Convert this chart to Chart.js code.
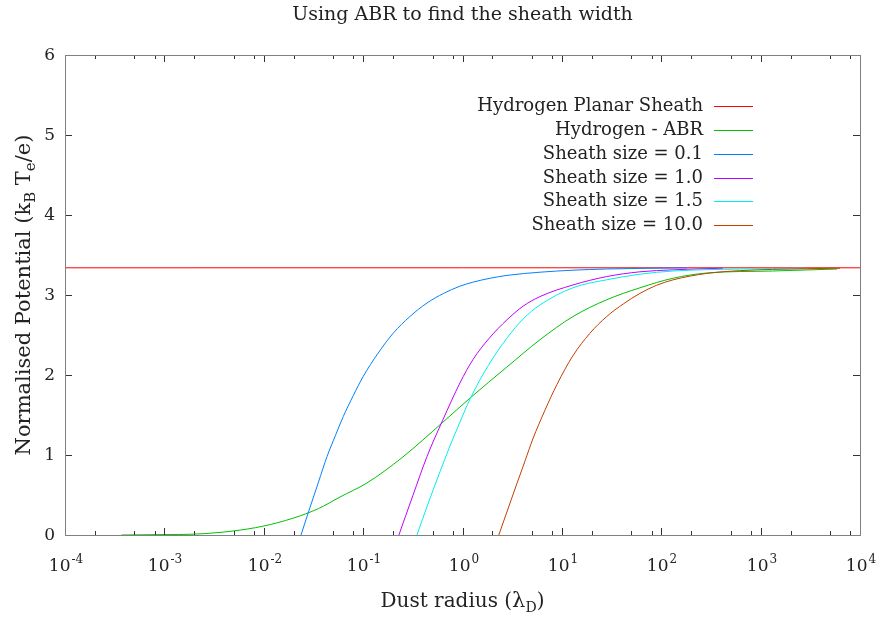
<!DOCTYPE html>
<html>
<head>
<meta charset="utf-8">
<script src="https://cdn.jsdelivr.net/npm/chart.js@4/dist/chart.umd.min.js"></script>
<style>html,body{margin:0;background:#fff}</style>
</head>
<body>
<div style="width:877px;height:621px"><canvas id="sheath" width="877" height="621"></canvas></div>
<script>
// values (x in Debye lengths, y normalised potential)
const planarX = [1e-4, 1e4];
const planarY = [3.34, 3.34];

const abrX = [3.7e-4, 1e-3, 1.95e-3, 4.9e-3, 0.0098, 0.0197, 0.0355, 0.0585, 0.109, 0.251, 0.635, 1.186, 2.8, 6.01, 12.9, 28.2, 61, 132, 288, 1318, 5890];
const abrY = [0, 0.005, 0.01, 0.05, 0.11, 0.21, 0.33, 0.475, 0.65, 0.975, 1.41, 1.71, 2.1, 2.44, 2.73, 2.94, 3.09, 3.21, 3.275, 3.30, 3.325];

const s01X = [0.0237, 0.0279, 0.0355, 0.0433, 0.0525, 0.0631, 0.0794, 0.1, 0.141, 0.2, 0.295, 0.439, 0.646, 0.942, 1.27, 1.91, 2.8, 6.03, 12.9, 28.2, 182];
const s01Y = [0, 0.27, 0.66, 0.98, 1.24, 1.48, 1.74, 1.98, 2.27, 2.52, 2.73, 2.9, 3.02, 3.11, 3.16, 3.21, 3.245, 3.285, 3.31, 3.325, 3.34];

const s10X = [0.229, 0.316, 0.439, 0.635, 0.942, 1.27, 1.86, 2.8, 4.07, 6.01, 12.9, 28.2, 61, 132, 417];
const s10Y = [0, 0.49, 0.98, 1.44, 1.9, 2.19, 2.46, 2.69, 2.86, 2.98, 3.125, 3.23, 3.29, 3.315, 3.335];

const s15X = [0.348, 0.447, 0.593, 0.741, 0.942, 1.19, 1.82, 2.8, 4.07, 6.01, 12.9, 28.2, 61, 132, 631, 2750];
const s15Y = [0, 0.38, 0.79, 1.1, 1.41, 1.70, 2.12, 2.46, 2.7, 2.875, 3.09, 3.19, 3.26, 3.3, 3.325, 3.335];

const s100X = [2.32, 2.82, 3.52, 4.27, 5.1, 6.76, 8.91, 12.9, 19.1, 28.2, 41.7, 61, 89.1, 132, 288, 631, 1318, 6310];
const s100Y = [0, 0.30, 0.64, 0.93, 1.2, 1.56, 1.88, 2.24, 2.52, 2.73, 2.89, 3.02, 3.12, 3.19, 3.27, 3.305, 3.32, 3.335];

const seriesLabels = ['Hydrogen Planar Sheath', 'Hydrogen - ABR', 'Sheath size = 0.1', 'Sheath size = 1.0', 'Sheath size = 1.5', 'Sheath size = 10.0'];
const seriesColors = ['#ff0000', '#00c000', '#0080ff', '#c000ff', '#00eeee', '#c04000'];

const xTickExps = [-4, -3, -2, -1, 0, 1, 2, 3, 4];
const xMinor = [2, 5, 8];
const yTicks = [0, 1, 2, 3, 4, 5, 6];

const FONT = '"DejaVu Serif", serif';

function pts(xs, ys) {
    return xs.map((x, i) => ({x: x, y: ys[i]}));
}

const allData = [
    pts(planarX, planarY), pts(abrX, abrY), pts(s01X, s01Y),
    pts(s10X, s10Y), pts(s15X, s15Y), pts(s100X, s100Y)
];

function drawRich(ctx, parts, cx, baseY) {
    let total = 0;
    parts.forEach(p => { ctx.font = p[1] + 'px ' + FONT; total += ctx.measureText(p[0]).width; });
    let x = cx - total / 2;
    ctx.textAlign = 'left';
    ctx.textBaseline = 'alphabetic';
    parts.forEach(p => {
        ctx.font = p[1] + 'px ' + FONT;
        ctx.fillText(p[0], x, baseY + p[2]);
        x += ctx.measureText(p[0]).width;
    });
}

// draws frame, inward ticks, labels and the key like gnuplot does
const gnuFrame = {
    id: 'gnuFrame',
    afterDraw(chart) {
        const ctx = chart.ctx;
        const a = chart.chartArea;
        const xs = chart.scales.x, ys = chart.scales.y;
        ctx.save();
        ctx.fillStyle = '#222';

        // y ticks
        ctx.strokeStyle = '#333';
        ctx.lineWidth = 1;
        ctx.font = '17px ' + FONT;
        ctx.textAlign = 'right';
        ctx.textBaseline = 'middle';
        yTicks.forEach(v => {
            const y = Math.round(ys.getPixelForValue(v)) + 0.5;
            ctx.beginPath();
            ctx.moveTo(a.left, y); ctx.lineTo(a.left + 7, y);
            ctx.moveTo(a.right, y); ctx.lineTo(a.right - 7, y);
            ctx.stroke();
            ctx.fillText(String(v), a.left - 10, y);
        });

        // x ticks
        xTickExps.forEach(e => {
            const x = Math.round(xs.getPixelForValue(Math.pow(10, e))) + 0.5;
            ctx.beginPath();
            ctx.moveTo(x, a.bottom); ctx.lineTo(x, a.bottom - 7);
            ctx.moveTo(x, a.top); ctx.lineTo(x, a.top + 7);
            ctx.stroke();
            if (e < 4) {
                xMinor.forEach(m => {
                    const xm = Math.round(xs.getPixelForValue(m * Math.pow(10, e))) + 0.5;
                    ctx.beginPath();
                    ctx.moveTo(xm, a.bottom); ctx.lineTo(xm, a.bottom - 4);
                    ctx.moveTo(xm, a.top); ctx.lineTo(xm, a.top + 4);
                    ctx.stroke();
                });
            }
            // label 10^e
            ctx.textBaseline = 'alphabetic';
            ctx.textAlign = 'left';
            ctx.font = '17px ' + FONT;
            const wBase = ctx.measureText('10').width;
            ctx.font = '12px ' + FONT;
            const wExp = ctx.measureText(String(e)).width;
            const x0 = x - (wBase + wExp) / 2;
            ctx.font = '17px ' + FONT;
            ctx.fillText('10', x0, 571);
            ctx.font = '12px ' + FONT;
            ctx.fillText(String(e), x0 + wBase + 1, 563);
        });

        // frame
        ctx.strokeStyle = '#808080';
        ctx.strokeRect(a.left + 0.5, a.top + 0.5, a.right - a.left, a.bottom - a.top);

        // title
        ctx.font = '19px ' + FONT;
        ctx.textAlign = 'center';
        ctx.textBaseline = 'alphabetic';
        ctx.fillText('Using ABR to find the sheath width', (a.left + a.right) / 2, 20);

        // x axis title with subscript
        drawRich(ctx, [['Dust radius (', 20, 0], ['\u03bb', 21, 0], ['D', 14, 5], [')', 20, 0]], (a.left + a.right) / 2, 607);

        // y axis title, rotated
        ctx.save();
        ctx.translate(30, (a.top + a.bottom) / 2);
        ctx.rotate(-Math.PI / 2);
        drawRich(ctx, [['Normalised Potential (k', 21, 0], ['B', 15, 5], [' T', 21, 0], ['e', 15, 5], ['/e)', 21, 0]], 0, 0);
        ctx.restore();

        // key
        ctx.font = '18px ' + FONT;
        ctx.textAlign = 'right';
        ctx.textBaseline = 'middle';
        seriesLabels.forEach((lab, i) => {
            const y = Math.round(106 + i * 23.85) + 0.5;
            ctx.fillStyle = '#222';
            ctx.fillText(lab, 703, y);
            ctx.strokeStyle = seriesColors[i];
            ctx.beginPath();
            ctx.moveTo(714, y); ctx.lineTo(753, y);
            ctx.stroke();
        });
        ctx.restore();
    }
};

new Chart(document.getElementById('sheath'), {
    type: 'line',
    data: {
        datasets: allData.map((d, i) => ({
            label: seriesLabels[i],
            data: d,
            borderColor: seriesColors[i],
            borderWidth: 1,
            pointRadius: 0,
            cubicInterpolationMode: 'monotone',
            fill: false,
            order: allData.length - i
        }))
    },
    options: {
        responsive: false,
        animation: false,
        layout: {padding: {left: 65, right: 17, top: 55, bottom: 86}},
        scales: {
            x: {type: 'logarithmic', min: 1e-4, max: 1e4, display: false},
            y: {type: 'linear', min: 0, max: 6, display: false}
        },
        plugins: {legend: {display: false}, tooltip: {enabled: false}}
    },
    plugins: [gnuFrame]
});
</script>
</body>
</html>
